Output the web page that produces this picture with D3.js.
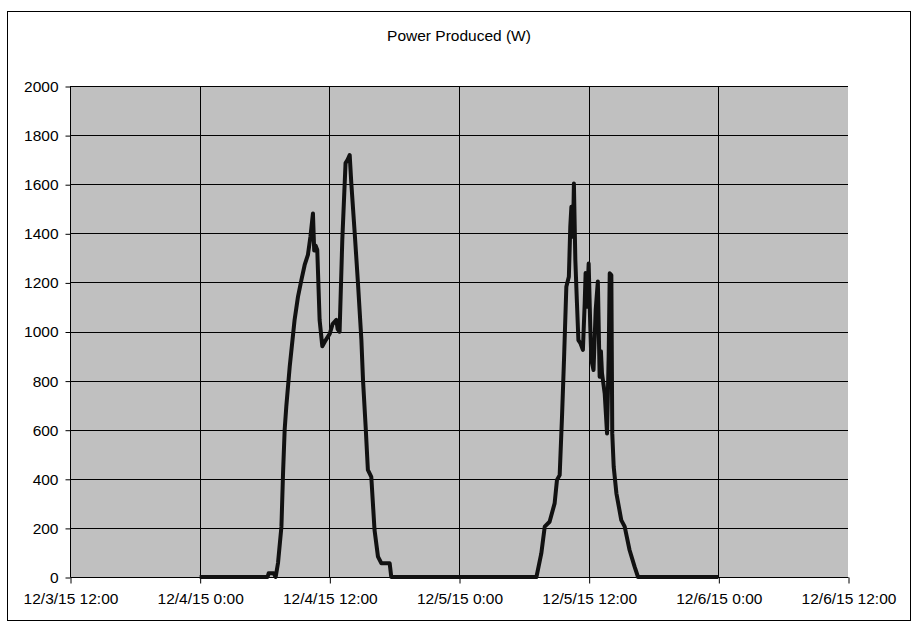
<!DOCTYPE html>
<html>
<head>
<meta charset="utf-8">
<script src="https://cdn.jsdelivr.net/npm/d3@7"></script>
<style>
  html, body { margin: 0; padding: 0; background: #fff; }
  svg { display: block; }
  text { font-family: "Liberation Sans", Arial, sans-serif; fill: #000; }
</style>
</head>
<body>
<svg id="chart" width="919" height="635"></svg>
<script>
// ---- data ----
const title = "Power Produced (W)";
const xTickLabels = ["12/3/15 12:00", "12/4/15 0:00", "12/4/15 12:00", "12/5/15 0:00", "12/5/15 12:00", "12/6/15 0:00", "12/6/15 12:00"];
const xTickTimes = ["2015-12-03 12:00", "2015-12-04 00:00", "2015-12-04 12:00", "2015-12-05 00:00", "2015-12-05 12:00", "2015-12-06 00:00", "2015-12-06 12:00"];
const yTicks = [0, 200, 400, 600, 800, 1000, 1200, 1400, 1600, 1800, 2000];

const times = [
  "2015-12-04 00:00", "2015-12-04 06:17", "2015-12-04 06:23", "2015-12-04 06:51", "2015-12-04 07:02",
  "2015-12-04 07:15", "2015-12-04 07:34", "2015-12-04 07:43", "2015-12-04 07:52", "2015-12-04 08:01",
  "2015-12-04 08:20", "2015-12-04 08:47", "2015-12-04 09:06", "2015-12-04 09:25", "2015-12-04 09:43",
  "2015-12-04 10:01", "2015-12-04 10:15", "2015-12-04 10:29", "2015-12-04 10:36", "2015-12-04 10:44",
  "2015-12-04 10:53", "2015-12-04 11:06", "2015-12-04 11:21", "2015-12-04 11:40", "2015-12-04 12:02",
  "2015-12-04 12:18", "2015-12-04 12:39", "2015-12-04 12:46", "2015-12-04 12:57", "2015-12-04 13:12",
  "2015-12-04 13:30", "2015-12-04 13:42", "2015-12-04 13:53", "2015-12-04 14:02", "2015-12-04 14:21",
  "2015-12-04 14:39", "2015-12-04 14:58", "2015-12-04 15:07", "2015-12-04 15:22", "2015-12-04 15:34",
  "2015-12-04 15:53", "2015-12-04 16:11", "2015-12-04 16:30", "2015-12-04 16:49", "2015-12-04 17:35",
  "2015-12-04 17:44",
  "2015-12-05 07:10", "2015-12-05 07:37", "2015-12-05 07:56", "2015-12-05 08:23", "2015-12-05 08:51",
  "2015-12-05 09:04", "2015-12-05 09:19", "2015-12-05 09:32", "2015-12-05 09:43", "2015-12-05 09:56",
  "2015-12-05 10:10", "2015-12-05 10:18", "2015-12-05 10:24", "2015-12-05 10:33", "2015-12-05 10:38",
  "2015-12-05 10:46", "2015-12-05 10:55", "2015-12-05 11:03", "2015-12-05 11:15", "2015-12-05 11:28",
  "2015-12-05 11:38", "2015-12-05 11:43", "2015-12-05 11:50", "2015-12-05 12:00", "2015-12-05 12:09",
  "2015-12-05 12:15", "2015-12-05 12:27", "2015-12-05 12:39", "2015-12-05 12:51", "2015-12-05 13:01",
  "2015-12-05 13:08", "2015-12-05 13:14", "2015-12-05 13:29", "2015-12-05 13:42", "2015-12-05 13:51",
  "2015-12-05 13:57", "2015-12-05 14:06", "2015-12-05 14:11", "2015-12-05 14:19", "2015-12-05 14:34",
  "2015-12-05 15:01", "2015-12-05 15:20", "2015-12-05 15:47", "2015-12-05 16:15", "2015-12-05 16:34",
  "2015-12-06 00:00"
];
const power = [
  0, 0, 15, 15, 0,
  57, 205, 424, 600, 694,
  857, 1047, 1142, 1210, 1271,
  1312, 1386, 1481, 1330, 1350,
  1332, 1047, 940, 965, 990,
  1030, 1047, 1010, 999, 1373,
  1686, 1700, 1719, 1604, 1400,
  1197, 965, 802, 607, 436,
  408, 191, 83, 56, 56,
  0,
  0, 96, 205, 225, 300,
  395, 415, 653, 884, 1182,
  1223, 1427, 1508, 1386, 1603,
  1291, 1115, 965, 951, 925,
  1116, 1238, 1101, 1277, 1020,
  884, 843, 1088, 1204, 816,
  920, 830, 748, 585, 897,
  1237, 1230, 585, 449, 341,
  232, 205, 110, 42, 0,
  0
];

// ---- drawing ----
const parse = d3.timeParse("%Y-%m-%d %H:%M");
const data = times.map((t, i) => ({ t: parse(t), v: power[i] }));

const svg = d3.select("#chart");
const plot = { left: 70, right: 848, top: 86, bottom: 577 };

// outer chart border
svg.append("rect")
  .attr("x", 7.5).attr("y", 11.5)
  .attr("width", 903).attr("height", 609)
  .attr("fill", "#fff").attr("stroke", "#000").attr("stroke-width", 1);

const x = d3.scaleTime()
  .domain([parse(xTickTimes[0]), parse(xTickTimes[xTickTimes.length - 1])])
  .range([plot.left, plot.right]);
const y = d3.scaleLinear().domain([0, 2000]).range([plot.bottom, plot.top]);

// plot background
svg.append("rect")
  .attr("x", plot.left).attr("y", plot.top)
  .attr("width", plot.right - plot.left).attr("height", plot.bottom - plot.top)
  .attr("fill", "#c0c0c0");

// horizontal gridlines
svg.append("g").selectAll("line")
  .data(yTicks.filter(d => d > 0))
  .join("line")
  .attr("x1", plot.left).attr("x2", plot.right)
  .attr("y1", d => Math.round(y(d)) + 0.5).attr("y2", d => Math.round(y(d)) + 0.5)
  .attr("stroke", "#000").attr("stroke-width", 1);

// vertical gridlines
const xTickDates = xTickTimes.map(parse);
svg.append("g").selectAll("line")
  .data(xTickDates.slice(1, -1))
  .join("line")
  .attr("x1", d => Math.round(x(d)) + 0.5).attr("x2", d => Math.round(x(d)) + 0.5)
  .attr("y1", plot.top).attr("y2", plot.bottom)
  .attr("stroke", "#000").attr("stroke-width", 1);

// y axis
const yAxis = d3.axisLeft(y).tickValues(yTicks).tickSize(5).tickPadding(7).tickFormat(d3.format("d"));
const gy = svg.append("g").attr("transform", `translate(${plot.left + 0.5},0.5)`).call(yAxis);
gy.select(".domain").attr("stroke", "#000").attr("d", `M0,${plot.top}V${plot.bottom}`);
gy.selectAll(".tick line").attr("stroke", "#000");
gy.selectAll("text").style("font-family", '"Liberation Sans", Arial, sans-serif').style("font-size", "15.5px").attr("fill", "#000");

// x axis
const xAxis = d3.axisBottom(x).tickValues(xTickDates).tickSize(6).tickPadding(9)
  .tickFormat((d, i) => xTickLabels[i]);
const gx = svg.append("g").attr("transform", `translate(0.5,${plot.bottom + 0.5})`).call(xAxis);
gx.select(".domain").attr("stroke", "#000").attr("d", `M${plot.left},0H${plot.right}`);
gx.selectAll(".tick line").attr("stroke", "#000");
gx.selectAll("text").style("font-family", '"Liberation Sans", Arial, sans-serif').style("font-size", "15.5px").attr("fill", "#000");

// series line
const line = d3.line().x(d => x(d.t)).y(d => y(d.v));
svg.append("path")
  .datum(data)
  .attr("d", line)
  .attr("fill", "none")
  .attr("stroke", "#111")
  .attr("stroke-width", 4)
  .attr("stroke-linejoin", "round")
  .attr("stroke-linecap", "butt");

// title
svg.append("text")
  .attr("x", 459).attr("y", 41)
  .attr("text-anchor", "middle")
  .style("font-size", "15.5px")
  .text(title);
</script>
</body>
</html>
